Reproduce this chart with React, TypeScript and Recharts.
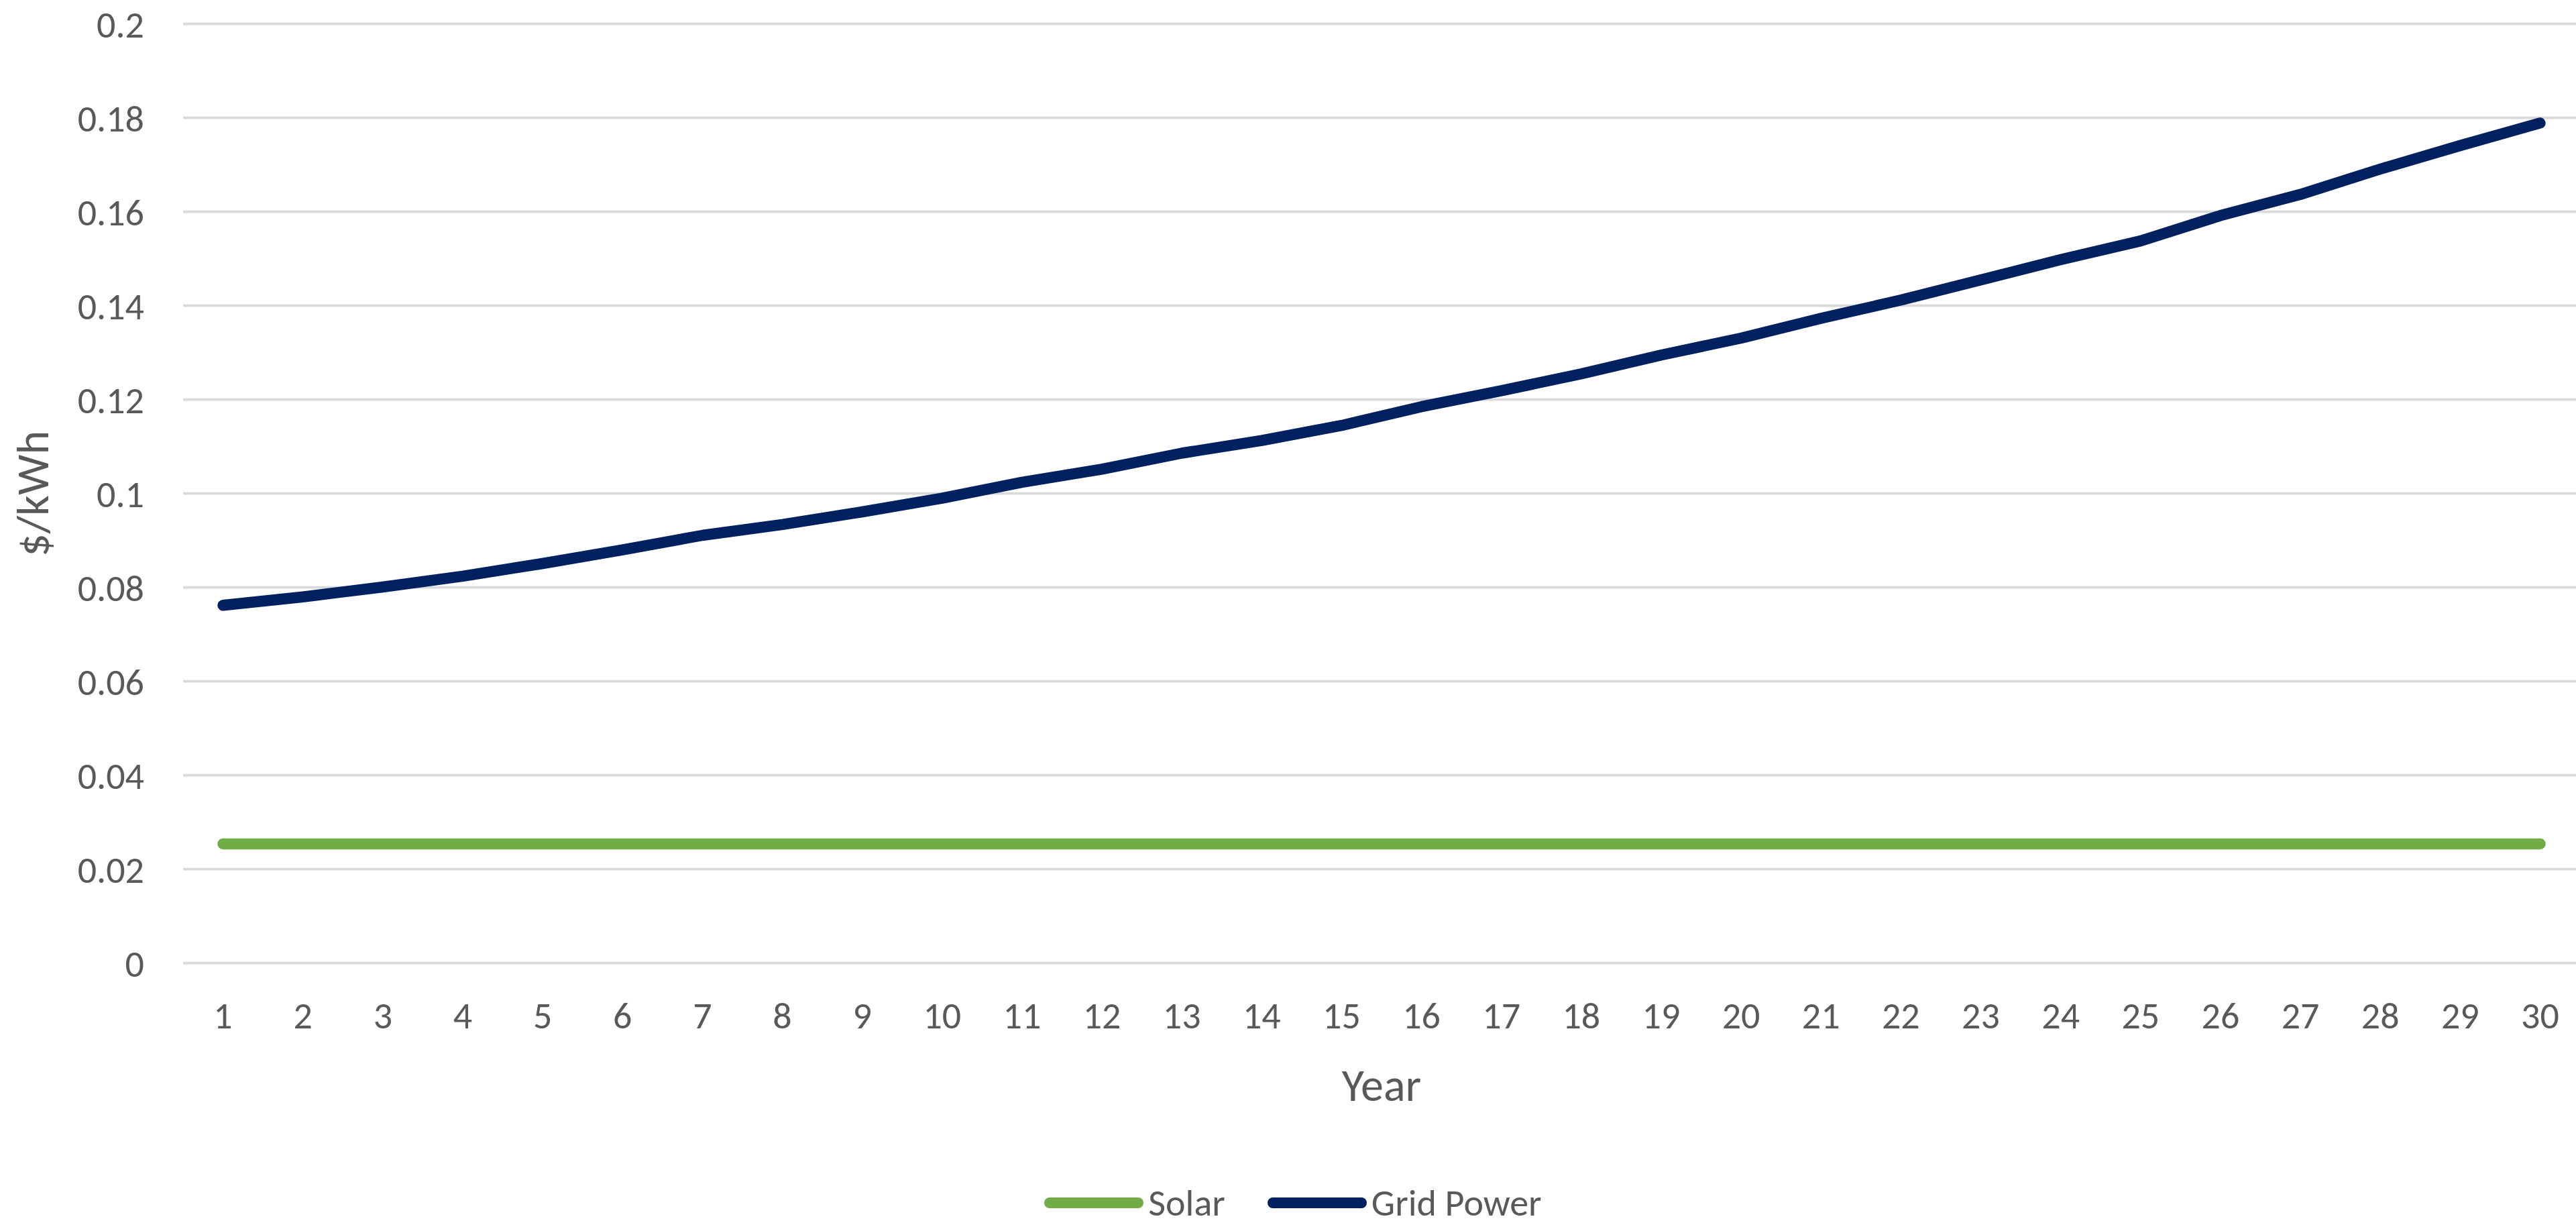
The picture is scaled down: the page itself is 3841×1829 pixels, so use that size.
import React from 'react';
import { LineChart, Line, XAxis, YAxis, CartesianGrid, Legend } from 'recharts';

const years = [1,2,3,4,5,6,7,8,9,10,11,12,13,14,15,16,17,18,19,20,21,22,23,24,25,26,27,28,29,30];
const solar = [0.0254,0.0254,0.0254,0.0254,0.0254,0.0254,0.0254,0.0254,0.0254,0.0254,0.0254,0.0254,0.0254,0.0254,0.0254,0.0254,0.0254,0.0254,0.0254,0.0254,0.0254,0.0254,0.0254,0.0254,0.0254,0.0254,0.0254,0.0254,0.0254,0.0254];
const gridPower = [0.0762,0.0780,0.0801,0.0824,0.0851,0.0880,0.0911,0.0934,0.0961,0.0990,0.1024,0.1052,0.1086,0.1113,0.1145,0.1185,0.1219,0.1255,0.1295,0.1331,0.1373,0.1412,0.1455,0.1498,0.1538,0.1592,0.1637,0.1691,0.1741,0.1789];
const yTicks = [0, 0.02, 0.04, 0.06, 0.08, 0.1, 0.12, 0.14, 0.16, 0.18, 0.2];
const seriesNames = { solar: 'Solar', grid: 'Grid Power' };
const legendOrder = ['solar', 'grid'];
const xTitle = 'Year';
const yTitle = '$/kWh';

const data = years.map((y, i) => ({ year: y, solar: solar[i], grid: gridPower[i] }));

const FONT = 'Carlito, Calibri, "Liberation Sans", Arial, sans-serif';
const TEXT = '#595959';

const YLabel = (props: any) => {
  const vb = props.viewBox || {};
  const cx = 49;
  const cy = vb.y + vb.height / 2;
  return (
    <text x={cx} y={cy} transform={`rotate(-90, ${cx}, ${cy})`} textAnchor="middle" dominantBaseline="central"
      fill={TEXT} fontSize={68} fontFamily={FONT}>{yTitle}</text>
  );
};

const XLabel = (props: any) => {
  const vb = props.viewBox || {};
  return (
    <text x={vb.x + vb.width / 2} y={vb.y + 205} textAnchor="middle" fill={TEXT} fontSize={68} fontFamily={FONT}>{xTitle}</text>
  );
};

const LegendContent = (props: any) => {
  const payload = [...(props.payload || [])].sort(
    (a: any, b: any) => legendOrder.indexOf(a.dataKey) - legendOrder.indexOf(b.dataKey)
  );
  return (
    <div style={{ display: 'flex', justifyContent: 'center', alignItems: 'center', width: '100%', height: '100%' }}>
      {payload.map((p: any, i: number) => (
        <div key={i} style={{ display: 'flex', alignItems: 'center', marginLeft: i === 0 ? 0 : 63 }}>
          <div style={{ width: 148, height: 16, borderRadius: 8, background: p.color }} />
          <span style={{ marginLeft: 7, fontSize: 56, fontFamily: FONT, color: TEXT, lineHeight: '56px', whiteSpace: 'nowrap' }}>{p.value}</span>
        </div>
      ))}
    </div>
  );
};

export default function App() {
  return (
    <div style={{ position: 'absolute', left: 0, top: 0, width: 3841, height: 1829, overflow: 'hidden', background: '#fff' }}>
      <LineChart width={3860} height={1829} data={data} margin={{ top: 35.7, right: 13, bottom: 0, left: 0 }}>
        <CartesianGrid vertical={false} stroke="#D9D9D9" strokeWidth={3.7} />
        <XAxis dataKey="year" type="number" domain={[0.5, 30.5]} ticks={years} interval={0}
          axisLine={false} tickLine={false} tickSize={0} tickMargin={58} height={393.3}
          tick={{ fill: TEXT, fontSize: 56, fontFamily: FONT }} label={<XLabel />} />
        <YAxis domain={[0, 0.2]} ticks={yTicks} interval={0} width={273}
          axisLine={false} tickLine={false} tickSize={0} tickMargin={58}
          tick={{ fill: TEXT, fontSize: 56, fontFamily: FONT }} label={<YLabel />} />
        <Legend verticalAlign="middle" layout="horizontal" content={<LegendContent />}
          wrapperStyle={{ top: 1763, left: 0, width: 3856, height: 60 }} />
        <Line type="linear" dataKey="solar" name={seriesNames.solar} stroke="#70AD47" strokeWidth={16.5}
          dot={false} strokeLinecap="round" strokeLinejoin="round" isAnimationActive={false} />
        <Line type="linear" dataKey="grid" name={seriesNames.grid} stroke="#002060" strokeWidth={16.5}
          dot={false} strokeLinecap="round" strokeLinejoin="round" isAnimationActive={false} />
      </LineChart>
    </div>
  );
}
